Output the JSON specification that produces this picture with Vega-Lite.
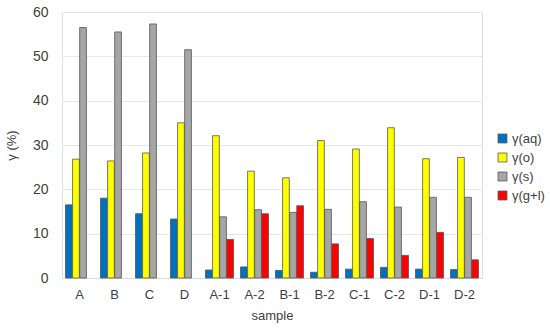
{
  "$schema": "https://vega.github.io/schema/vega-lite/v6.json",
  "width": 420,
  "height": 266,
  "autosize": {"type": "none"},
  "padding": {"left": 62, "top": 12, "right": 68, "bottom": 51},
  "background": "white",
  "config": {
    "font": "Liberation Sans",
    "view": {"stroke": "#e0e0e0", "strokeWidth": 1}
  },
  "data": {
    "values": [
      {"sample": "A", "series": "γ(aq)", "v": 16.5},
      {"sample": "A", "series": "γ(o)", "v": 26.8},
      {"sample": "A", "series": "γ(s)", "v": 56.5},
      {"sample": "B", "series": "γ(aq)", "v": 18.0},
      {"sample": "B", "series": "γ(o)", "v": 26.4},
      {"sample": "B", "series": "γ(s)", "v": 55.5},
      {"sample": "C", "series": "γ(aq)", "v": 14.5},
      {"sample": "C", "series": "γ(o)", "v": 28.2},
      {"sample": "C", "series": "γ(s)", "v": 57.3},
      {"sample": "D", "series": "γ(aq)", "v": 13.3},
      {"sample": "D", "series": "γ(o)", "v": 35.0},
      {"sample": "D", "series": "γ(s)", "v": 51.5},
      {"sample": "A-1", "series": "γ(aq)", "v": 1.8},
      {"sample": "A-1", "series": "γ(o)", "v": 32.1},
      {"sample": "A-1", "series": "γ(s)", "v": 13.8},
      {"sample": "A-1", "series": "γ(g+l)", "v": 8.7},
      {"sample": "A-2", "series": "γ(aq)", "v": 2.5},
      {"sample": "A-2", "series": "γ(o)", "v": 24.1},
      {"sample": "A-2", "series": "γ(s)", "v": 15.4},
      {"sample": "A-2", "series": "γ(g+l)", "v": 14.5},
      {"sample": "B-1", "series": "γ(aq)", "v": 1.7},
      {"sample": "B-1", "series": "γ(o)", "v": 22.6},
      {"sample": "B-1", "series": "γ(s)", "v": 14.8},
      {"sample": "B-1", "series": "γ(g+l)", "v": 16.3},
      {"sample": "B-2", "series": "γ(aq)", "v": 1.3},
      {"sample": "B-2", "series": "γ(o)", "v": 31.0},
      {"sample": "B-2", "series": "γ(s)", "v": 15.5},
      {"sample": "B-2", "series": "γ(g+l)", "v": 7.7},
      {"sample": "C-1", "series": "γ(aq)", "v": 2.0},
      {"sample": "C-1", "series": "γ(o)", "v": 29.1},
      {"sample": "C-1", "series": "γ(s)", "v": 17.2},
      {"sample": "C-1", "series": "γ(g+l)", "v": 8.9},
      {"sample": "C-2", "series": "γ(aq)", "v": 2.4},
      {"sample": "C-2", "series": "γ(o)", "v": 33.9},
      {"sample": "C-2", "series": "γ(s)", "v": 16.0},
      {"sample": "C-2", "series": "γ(g+l)", "v": 5.1},
      {"sample": "D-1", "series": "γ(aq)", "v": 2.0},
      {"sample": "D-1", "series": "γ(o)", "v": 26.9},
      {"sample": "D-1", "series": "γ(s)", "v": 18.2},
      {"sample": "D-1", "series": "γ(g+l)", "v": 10.3},
      {"sample": "D-2", "series": "γ(aq)", "v": 1.9},
      {"sample": "D-2", "series": "γ(o)", "v": 27.2},
      {"sample": "D-2", "series": "γ(s)", "v": 18.2},
      {"sample": "D-2", "series": "γ(g+l)", "v": 4.1}
    ]
  },
  "mark": {"type": "bar", "stroke": "#555555", "strokeWidth": 0.8},
  "encoding": {
    "x": {
      "field": "sample",
      "type": "nominal",
      "sort": ["A", "B", "C", "D", "A-1", "A-2", "B-1", "B-2", "C-1", "C-2", "D-1", "D-2"],
      "scale": {"paddingInner": 0.2, "paddingOuter": 0.1},
      "axis": {
        "title": "sample",
        "titleFont": "Liberation Sans",
        "titleFontSize": 13,
        "titleFontWeight": "normal",
        "titleColor": "#404040",
        "titlePadding": 8,
        "labelAngle": 0,
        "labelFontSize": 13,
        "labelColor": "#404040",
        "labelPadding": 10,
        "ticks": false,
        "domainColor": "#d9d9d9"
      }
    },
    "xOffset": {
      "field": "series",
      "type": "nominal",
      "sort": ["γ(aq)", "γ(o)", "γ(s)", "γ(g+l)"],
      "scale": {"domain": ["γ(aq)", "γ(o)", "γ(s)", "γ(g+l)"], "paddingInner": 0.05}
    },
    "y": {
      "field": "v",
      "type": "quantitative",
      "scale": {"domain": [0, 60]},
      "axis": {
        "title": "γ (%)",
        "titleFontSize": 13,
        "titleFontWeight": "normal",
        "titleColor": "#404040",
        "titlePadding": 14,
        "values": [0, 10, 20, 30, 40, 50, 60],
        "labelFontSize": 14,
        "labelColor": "#404040",
        "labelPadding": 14,
        "ticks": false,
        "domain": false,
        "gridColor": "#e6e6e6"
      }
    },
    "color": {
      "field": "series",
      "type": "nominal",
      "sort": ["γ(aq)", "γ(o)", "γ(s)", "γ(g+l)"],
      "scale": {
        "domain": ["γ(aq)", "γ(o)", "γ(s)", "γ(g+l)"],
        "range": ["#0070C0", "#FFFF00", "#A6A6A6", "#FF0000"]
      },
      "legend": {
        "title": null,
        "orient": "none",
        "legendX": 434,
        "legendY": 120,
        "symbolType": "square",
        "symbolSize": 80,
        "symbolStrokeColor": "#555555",
        "symbolStrokeWidth": 0.8,
        "labelFontSize": 13,
        "labelColor": "#404040",
        "rowPadding": 5,
        "labelOffset": 3
      }
    }
  }
}
